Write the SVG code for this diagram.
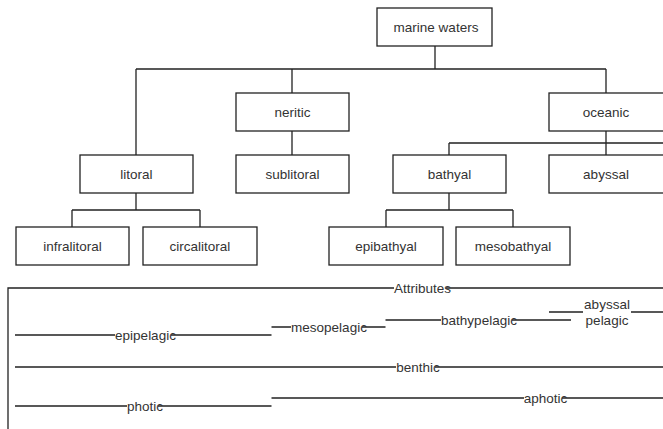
<svg xmlns="http://www.w3.org/2000/svg" width="663" height="429" viewBox="0 0 663 429">
<style>
.box rect{fill:#fff;stroke:#222;stroke-width:1.3}
text{font-family:"Liberation Sans",Arial,sans-serif;font-size:13.5px;fill:#333;text-anchor:middle}
.c path,.a path{fill:none;stroke:#222;stroke-width:1.3}
</style>
<rect width="663" height="429" fill="#fff"/>
<g class="c" id="connectors">
<path d="M435,46V69M136,69H606M136,69V155M292,69V93M606,69V93M292,131V155M606,131V143M449,143H663M449,143V155M606,143V155M136,193V210M72,210H200M72,210V227M200,210V227M449,193V210M386,210H513M386,210V227M513,210V227"/>
</g>
<g class="box" id="marine-waters"><rect x="377" y="8" width="115" height="38"/><text x="436" y="31.5">marine waters</text></g>
<g class="box" id="neritic"><rect x="236" y="93" width="113" height="38"/><text x="292.5" y="116.5">neritic</text></g>
<g class="box" id="oceanic"><rect x="549" y="93" width="120" height="38"/><text x="606" y="116.5">oceanic</text></g>
<g class="box" id="litoral"><rect x="80" y="155" width="113" height="38"/><text x="136.5" y="178.5">litoral</text></g>
<g class="box" id="sublitoral"><rect x="236" y="155" width="113" height="38"/><text x="292.5" y="178.5">sublitoral</text></g>
<g class="box" id="bathyal"><rect x="393" y="155" width="113" height="38"/><text x="449.5" y="178.5">bathyal</text></g>
<g class="box" id="abyssal"><rect x="549" y="155" width="120" height="38"/><text x="606" y="178.5">abyssal</text></g>
<g class="box" id="infralitoral"><rect x="16" y="227" width="113" height="38"/><text x="72.5" y="250.5">infralitoral</text></g>
<g class="box" id="circalitoral"><rect x="143" y="227" width="114" height="38"/><text x="200" y="250.5">circalitoral</text></g>
<g class="box" id="epibathyal"><rect x="329" y="227" width="114" height="38"/><text x="386" y="250.5">epibathyal</text></g>
<g class="box" id="mesobathyal"><rect x="456" y="227" width="114" height="38"/><text x="513" y="250.5">mesobathyal</text></g>
<g class="a" id="attributes">
<path d="M8,429V288H394M446,288H663"/>
<text x="422.5" y="292.5">Attributes</text>
<path d="M15,335H115M171,335H271.5"/>
<text x="145.5" y="339.5">epipelagic</text>
<path d="M271.5,327H291M362,327H385.5"/>
<text x="329" y="331.5">mesopelagic</text>
<path d="M385.5,320H441M512,320H571"/>
<text x="479" y="324.5">bathypelagic</text>
<path d="M549,312H583M631,312H663"/>
<text x="607" y="309">abyssal</text>
<text x="607" y="325">pelagic</text>
<path d="M15,367H396M435,367H663"/>
<text x="418" y="371.5">benthic</text>
<path d="M271.5,398H524M562,398H663"/>
<text x="545.5" y="402.5">aphotic</text>
<path d="M15,406H127M158,406H271.5"/>
<text x="145" y="410.5">photic</text>
</g>
</svg>
